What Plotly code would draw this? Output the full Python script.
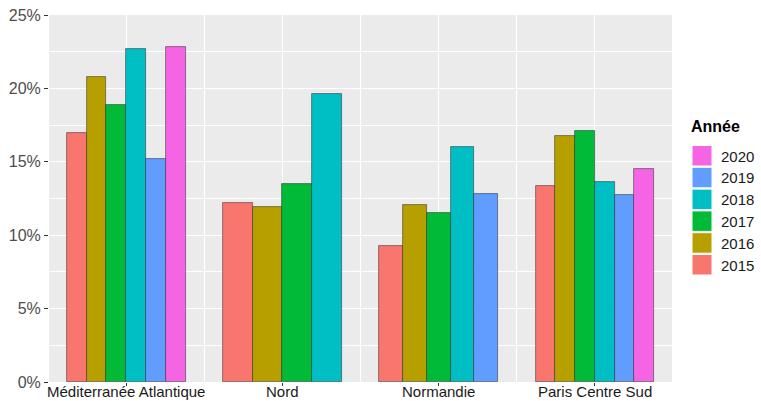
import plotly.graph_objects as go

categories = ["Méditerranée Atlantique", "Nord", "Normandie", "Paris Centre Sud"]
years = ["2015", "2016", "2017", "2018", "2019", "2020"]
colors = ["#F8766D", "#B79F00", "#00BA38", "#00BFC4", "#619CFF", "#F564E3"]

v2015 = [0.1697, 0.1219, 0.0926, 0.1337]
v2016 = [0.2078, 0.1195, 0.1206, 0.1676]
v2017 = [0.1887, 0.1349, 0.1151, 0.1712]
v2018 = [0.2268, 0.1965, 0.1600, 0.1365]
v2019 = [0.1519, None, 0.1281, 0.1276]
v2020 = [0.2282, None, None, 0.1449]
series = [v2015, v2016, v2017, v2018, v2019, v2020]

yticks = [0, 0.05, 0.10, 0.15, 0.20, 0.25]

W = 0.76  # total dodge width per category

fig = go.Figure()
for yi, (yr, vals, col) in enumerate(zip(years, series, colors)):
    xs, ys, ws = [], [], []
    for ci in range(len(categories)):
        present = [s[ci] is not None for s in series]
        if not present[yi]:
            continue
        n = sum(present)
        k = sum(present[:yi])
        w = W / n
        xs.append(ci + 1 - W / 2 + (k + 0.5) * w)
        ys.append(vals[ci])
        ws.append(w)
    fig.add_trace(go.Bar(
        x=xs, y=ys, width=ws, name=yr,
        marker=dict(color=col, line=dict(color="rgba(40,40,40,0.65)", width=0.8)),
        showlegend=False,
    ))

# plot area in pixels
L, R, T, B = 49, 672, 15, 382
Wp, Hp = 761, 401

def px(x):
    return (x - L) / (R - L)

def py(y):
    return (B - y) / (B - T)

shapes = []
annotations = []
# category labels under the axis
for ci, cat in enumerate(categories):
    annotations.append(dict(x=ci + 1, y=py(381), xref="x", yref="paper",
                            text=cat, showarrow=False, xanchor="center", yanchor="top",
                            font=dict(family="Liberation Sans, Arial", size=15, color="#1a1a1a")))
annotations.append(dict(x=px(689), y=py(127), xref="paper", yref="paper",
                        text="<b>Année</b>", showarrow=False, xanchor="left", yanchor="middle",
                        font=dict(family="Liberation Sans, Arial", size=16, color="#000")))
for i, (yr, col) in enumerate(reversed(list(zip(years, colors)))):
    top = 145.5 + i * 21.8
    shapes.append(dict(type="rect", xref="paper", yref="paper",
                       x0=px(692), x1=px(712), y0=py(top), y1=py(top + 20.5),
                       fillcolor=col, line=dict(color="white", width=1)))
    annotations.append(dict(x=px(719), y=py(top + 10.5), xref="paper", yref="paper",
                            text=yr, showarrow=False, xanchor="left", yanchor="middle",
                            font=dict(family="Liberation Sans, Arial", size=15, color="#1a1a1a")))

fig.update_layout(
    width=Wp, height=Hp,
    margin=dict(l=L, r=Wp - R, t=T, b=Hp - B, autoexpand=False),
    paper_bgcolor="white", plot_bgcolor="#EBEBEB",
    bargap=0, barmode="overlay",
    shapes=shapes, annotations=annotations,
    font=dict(family="Liberation Sans, Arial"),
)
fig.update_xaxes(
    range=[1 - 77 / 156, 4 + 77 / 156],
    tickvals=[1, 2, 3, 4], showticklabels=False,
    showgrid=True, gridcolor="white", gridwidth=1.2,
    ticks="outside", ticklen=3, tickcolor="#333", tickwidth=1,
    minor=dict(tick0=0.5, dtick=1, showgrid=True, gridcolor="white", gridwidth=0.6, ticks=""),
    zeroline=False, showline=False, fixedrange=True, automargin=False,
)
fig.update_yaxes(
    range=[0, 0.25],
    tickvals=yticks, tickformat=".0%",
    tickfont=dict(size=16, color="#4D4D4D"),
    showgrid=True, gridcolor="white", gridwidth=1.2,
    ticks="outside", ticklen=4, tickcolor="#333", tickwidth=1,
    minor=dict(tick0=0.025, dtick=0.05, showgrid=True, gridcolor="white", gridwidth=0.6, ticks=""),
    zeroline=False, showline=False, fixedrange=True, automargin=False,
)

fig.write_html(
    "out.html",
    config={"displayModeBar": False},
    post_script="document.body.style.margin='0';document.body.style.overflow='hidden';",
)
